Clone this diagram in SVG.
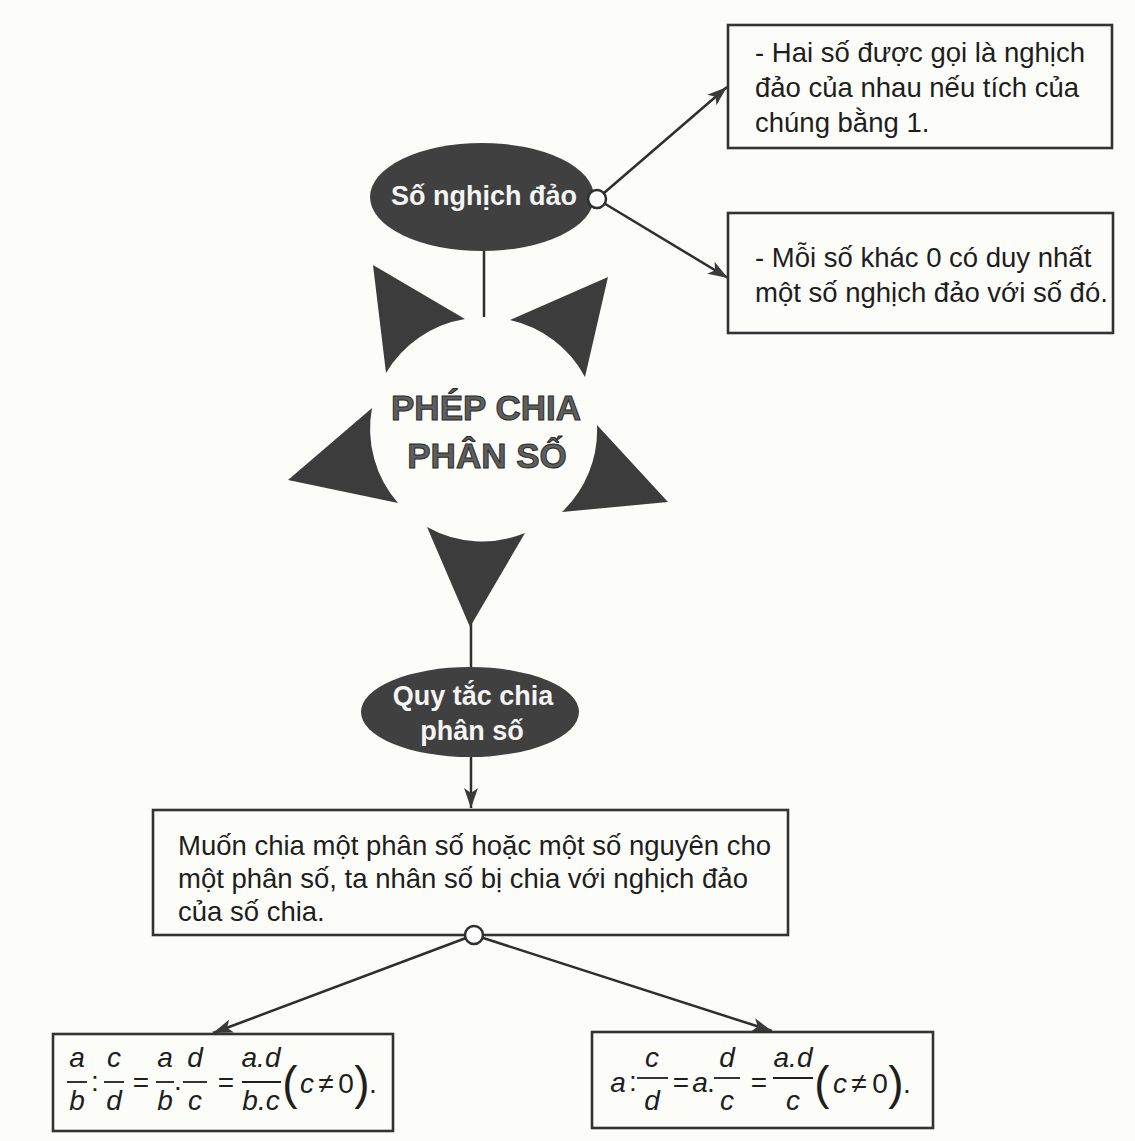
<svg xmlns="http://www.w3.org/2000/svg" width="1135" height="1141" viewBox="0 0 1135 1141">
<defs>
<marker id="arr" markerUnits="userSpaceOnUse" markerWidth="22" markerHeight="16" refX="20" refY="8" orient="auto">
<path d="M0,1 L20,8 L0,15 L5,8 Z" fill="#3a3a3a"/>
</marker>
<style>
.bg{fill:#fcfcf9}
.box{fill:none;stroke:#333;stroke-width:2.6}
.ell{fill:#404040}
.tri{fill:#3c3c3c}
.con{stroke:#2e2e2e;stroke-width:2.5;fill:none}
.dot{fill:#fff;stroke:#2e2e2e;stroke-width:2.5}
.t{font-family:"Liberation Sans",Arial,sans-serif;font-size:27.5px;fill:#1e1e1e}
.et{font-family:"Liberation Sans",Arial,sans-serif;font-size:27px;font-weight:bold;fill:#f4f4f4;text-anchor:middle}
.big{font-family:"Liberation Sans",Arial,sans-serif;font-size:35px;font-weight:bold;fill:#5e5e5e;stroke:#2a2a2a;stroke-width:1;text-anchor:middle}
.m{font-family:"Liberation Sans",Arial,sans-serif;font-size:28px;font-style:italic;fill:#1e1e1e;text-anchor:middle}
.mo{font-family:"Liberation Sans",Arial,sans-serif;font-size:28px;fill:#1e1e1e;text-anchor:middle}
.par{font-family:"Liberation Sans",Arial,sans-serif;font-size:46px;fill:#1e1e1e;text-anchor:middle}
.bar{stroke:#1e1e1e;stroke-width:1.8}
</style>
</defs>
<rect class="bg" x="0" y="0" width="1135" height="1141"/>

<g id="connectors">
<line class="con" x1="597" y1="199" x2="727" y2="87" marker-end="url(#arr)"/>
<line class="con" x1="597" y1="199" x2="728" y2="278" marker-end="url(#arr)"/>
<line class="con" x1="484" y1="249" x2="484" y2="317"/>
<line class="con" x1="471" y1="620" x2="471" y2="668"/>
<line class="con" x1="471" y1="757" x2="471" y2="808" marker-end="url(#arr)"/>
<line class="con" x1="474" y1="935" x2="213" y2="1033" marker-end="url(#arr)"/>
<line class="con" x1="474" y1="935" x2="772" y2="1031" marker-end="url(#arr)"/>
</g>

<g id="node-so-nghich-dao">
<ellipse class="ell" cx="482" cy="197" rx="112" ry="54"/>
<text class="et" x="484" y="205">Số nghịch đảo</text>
<circle class="dot" cx="597" cy="199" r="9"/>
</g>

<g id="node-def1">
<rect class="box" x="728" y="25" width="384" height="123"/>
<text class="t" x="755" y="62">- Hai số được gọi là nghịch</text>
<text class="t" x="755" y="97">đảo của nhau nếu tích của</text>
<text class="t" x="755" y="132">chúng bằng 1.</text>
</g>

<g id="node-def2">
<rect class="box" x="728" y="213" width="385" height="120"/>
<text class="t" x="755" y="267">- Mỗi số khác 0 có duy nhất</text>
<text class="t" x="755" y="302">một số nghịch đảo với số đó.</text>
</g>

<g id="node-phep-chia">
<path class="tri" d="M373 265 L465 319 A113 113 0 0 0 386 373 Z"/>
<path class="tri" d="M608 277 L585 377 A113 113 0 0 0 510 320 Z"/>
<path class="tri" d="M668 502 L562 512 A113 113 0 0 0 597 425 Z"/>
<path class="tri" d="M470 627 L427 527 A113 113 0 0 0 525 533 Z"/>
<path class="tri" d="M288 480 L372 408 A113 113 0 0 0 398 503 Z"/>
<text class="big" x="486" y="420">PHÉP CHIA</text>
<text class="big" x="487" y="468">PHÂN SỐ</text>
</g>

<g id="node-quy-tac">
<ellipse class="ell" cx="470" cy="712" rx="109" ry="45"/>
<text class="et" x="473" y="705">Quy tắc chia</text>
<text class="et" x="472" y="740">phân số</text>
</g>

<g id="node-rule">
<rect class="box" x="153" y="810" width="635" height="125"/>
<text class="t" x="178" y="855">Muốn chia một phân số hoặc một số nguyên cho</text>
<text class="t" x="178" y="888">một phân số, ta nhân số bị chia với nghịch đảo</text>
<text class="t" x="178" y="921">của số chia.</text>
<circle class="dot" cx="474" cy="935" r="9"/>
</g>

<g id="node-formula1">
<rect class="box" x="53" y="1034" width="340" height="97"/>
<text class="m" x="77" y="1067">a</text><line class="bar" x1="67" y1="1082" x2="87" y2="1082"/><text class="m" x="77" y="1110">b</text>
<text class="mo" x="95" y="1091">:</text>
<text class="m" x="114" y="1067">c</text><line class="bar" x1="104" y1="1082" x2="124" y2="1082"/><text class="m" x="114" y="1110">d</text>
<text class="mo" x="141" y="1092">=</text>
<text class="m" x="165" y="1067">a</text><line class="bar" x1="156" y1="1082" x2="174" y2="1082"/><text class="m" x="165" y="1110">b</text>
<text class="mo" x="178" y="1090">.</text>
<text class="m" x="195" y="1067">d</text><line class="bar" x1="183" y1="1082" x2="207" y2="1082"/><text class="m" x="195" y="1110">c</text>
<text class="mo" x="226" y="1092">=</text>
<text class="m" x="261" y="1067">a.d</text><line class="bar" x1="242" y1="1082" x2="281" y2="1082"/><text class="m" x="261" y="1110">b.c</text>
<text class="par" x="290" y="1099">(</text>
<text class="m" x="307" y="1093">c</text>
<text class="mo" x="326" y="1093">≠</text>
<text class="mo" x="346" y="1093">0</text>
<text class="par" x="362" y="1099">)</text>
<text class="mo" x="373" y="1093">.</text>
</g>

<g id="node-formula2">
<rect class="box" x="592" y="1032" width="341" height="96"/>
<text class="m" x="618" y="1092">a</text>
<text class="mo" x="633" y="1091">:</text>
<text class="m" x="652" y="1067">c</text><line class="bar" x1="637" y1="1078" x2="668" y2="1078"/><text class="m" x="652" y="1110">d</text>
<text class="mo" x="681" y="1092">=</text>
<text class="m" x="700" y="1092">a</text><text class="mo" x="711" y="1092">.</text>
<text class="m" x="727" y="1067">d</text><line class="bar" x1="714" y1="1078" x2="740" y2="1078"/><text class="m" x="727" y="1110">c</text>
<text class="mo" x="759" y="1092">=</text>
<text class="m" x="793" y="1067">a.d</text><line class="bar" x1="773" y1="1078" x2="813" y2="1078"/><text class="m" x="793" y="1110">c</text>
<text class="par" x="822" y="1099">(</text>
<text class="m" x="840" y="1093">c</text>
<text class="mo" x="859" y="1093">≠</text>
<text class="mo" x="880" y="1093">0</text>
<text class="par" x="896" y="1099">)</text>
<text class="mo" x="907" y="1093">.</text>
</g>
</svg>
